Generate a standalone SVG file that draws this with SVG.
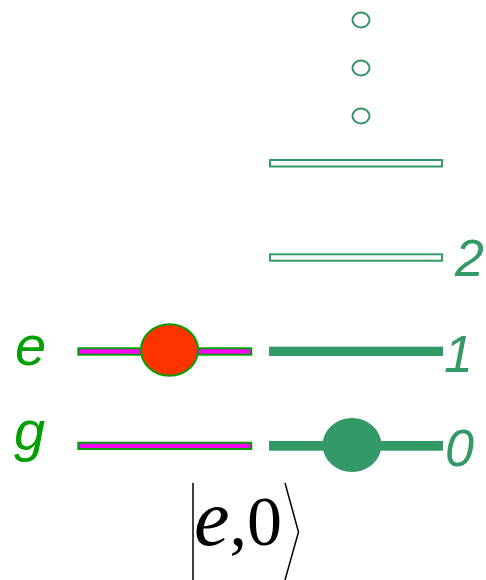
<svg xmlns="http://www.w3.org/2000/svg" width="486" height="580" viewBox="0 0 486 580">
<style>
.dot{fill:#fff;stroke:#339966;stroke-width:2}
.open{fill:#fff;stroke:#339966;stroke-width:2}
.solid{fill:#339966}
.atom{fill:#ff00ff;stroke:#00a000;stroke-width:2}
.num{font-family:"Liberation Sans",Arial,sans-serif;font-style:italic;font-size:52px;fill:#339966}
.lbl{font-family:"Liberation Sans",Arial,sans-serif;font-style:italic;font-size:56px;fill:#00a000}
.ket{font-family:"Liberation Serif","Times New Roman",serif;fill:#000}
</style>
<rect width="486" height="580" fill="#fff"/>
<g id="dots">
<ellipse class="dot" cx="361" cy="20" rx="8.5" ry="7.5"/>
<ellipse class="dot" cx="361" cy="68" rx="8.5" ry="7.5"/>
<ellipse class="dot" cx="361" cy="116" rx="8.5" ry="7.5"/>
</g>
<g id="level3"><rect class="open" x="270" y="160" width="172" height="6.5"/></g>
<g id="level2"><rect class="open" x="270" y="254.3" width="172" height="6.4"/><text class="num" x="455" y="276">2</text></g>
<g id="level1"><rect class="solid" x="269" y="346.7" width="174" height="9.3"/><text class="num" x="444" y="371.5">1</text></g>
<g id="level0"><rect class="solid" x="269" y="441" width="174" height="9.7"/><text class="num" x="445" y="466">0</text></g>
<g id="photon"><ellipse class="solid" cx="352" cy="445" rx="29.5" ry="27"/></g>
<g id="atom-e"><rect class="atom" x="78.3" y="348.3" width="173" height="6.4"/><text class="lbl" x="15" y="365">e</text></g>
<g id="atom-g"><rect class="atom" x="78.3" y="442.7" width="173" height="6.3"/><text class="lbl" x="14" y="450">g</text></g>
<g id="atom"><ellipse cx="169.5" cy="350" rx="28.5" ry="25.7" fill="#ff3300" stroke="#00a000" stroke-width="2"/></g>
<g id="ket">
<line x1="193" y1="483" x2="193" y2="580" stroke="#000" stroke-width="1.5"/>
<polyline points="285,483 298.5,532 285,580" fill="none" stroke="#000" stroke-width="1.5"/>
<text class="ket" x="194" y="545" font-size="70"><tspan font-style="italic" font-size="80">e</tspan>,0</text>
</g>
</svg>
